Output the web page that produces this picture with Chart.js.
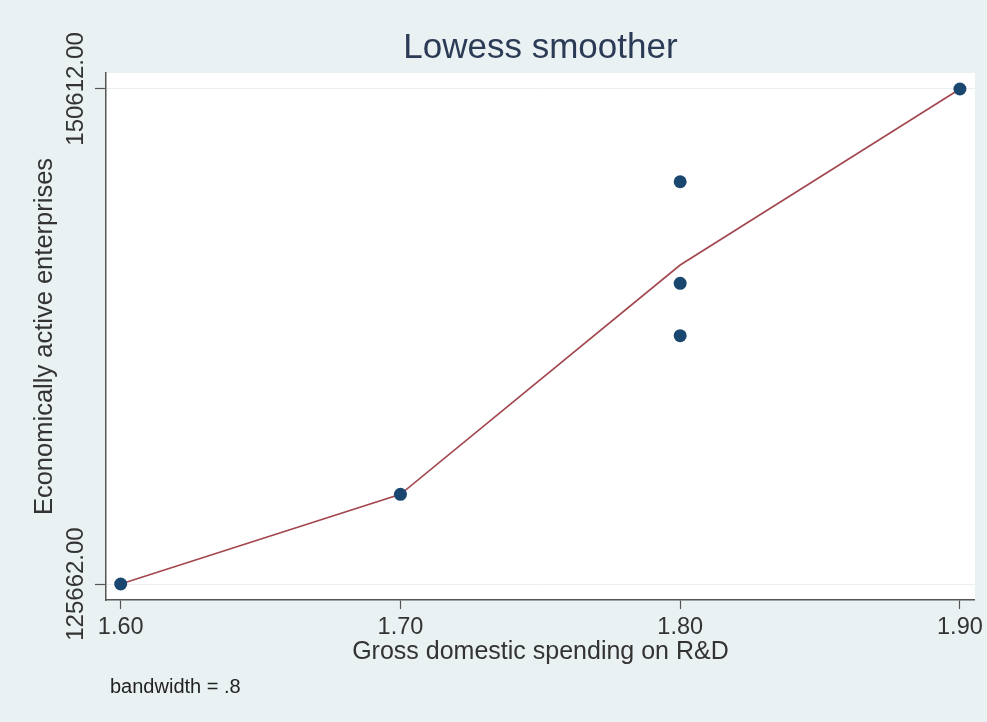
<!DOCTYPE html>
<html>
<head>
<meta charset="utf-8">
<script src="https://cdn.jsdelivr.net/npm/chart.js@4"></script>
<style>
html,body{margin:0;padding:0;background:#EAF1F3;}
#wrap{width:987px;height:722px;}
</style>
</head>
<body>
<div id="wrap"><canvas id="c" width="987" height="722"></canvas></div>
<script>
// ---- data ----
const spendingRD = [1.6, 1.7, 1.8, 1.8, 1.8, 1.9];
const enterprises = [125662, 130183, 145938, 140817, 138177, 150612];
const lowessX = [1.6, 1.7, 1.8, 1.9];
const lowessY = [125662, 130183, 141740, 150612];
const xTicks = [1.6, 1.7, 1.8, 1.9];
const yTicks = [125662, 150612];
const titleText = 'Lowess smoother';
const xTitle = 'Gross domestic spending on R&D';
const yTitle = 'Economically active enterprises';
const noteText = 'bandwidth = .8';

const FONT = '"Liberation Sans", Arial, Helvetica, sans-serif';
Chart.defaults.font.family = FONT;

const bgPlugin = {
  id: 'bg',
  beforeDraw(chart) {
    const {ctx, chartArea: a} = chart;
    ctx.save();
    ctx.fillStyle = '#EAF1F3';
    ctx.fillRect(0, 0, chart.width, chart.height);
    ctx.fillStyle = '#FFFFFF';
    ctx.fillRect(a.left, a.top, a.right - a.left, a.bottom - a.top);
    ctx.restore();
  },
  afterDraw(chart) {
    const {ctx} = chart;
    const ys = chart.scales.y;
    ctx.save();
    ctx.fillStyle = '#333333';
    ctx.font = '24px ' + FONT;
    ctx.textAlign = 'center';
    ctx.textBaseline = 'middle';
    yTicks.forEach(v => {
      const py = ys.getPixelForValue(v);
      ctx.save();
      ctx.translate(76, py);
      ctx.rotate(-Math.PI / 2);
      ctx.fillText(v.toFixed(2), 0, 0);
      ctx.restore();
    });
    ctx.textAlign = 'left';
    ctx.textBaseline = 'alphabetic';
    ctx.fillStyle = '#222222';
    ctx.font = '20px ' + FONT;
    ctx.fillText(noteText, 110, 693);
    ctx.restore();
  }
};

new Chart(document.getElementById('c'), {
  type: 'scatter',
  data: {
    datasets: [
      {
        type: 'line',
        label: 'lowess',
        data: lowessX.map((x, i) => ({x: x, y: lowessY[i]})),
        borderColor: '#A3474F',
        borderWidth: 1.6,
        pointRadius: 0,
        fill: false,
        tension: 0,
        order: 2
      },
      {
        label: 'enterprises',
        data: spendingRD.map((x, i) => ({x: x, y: enterprises[i]})),
        backgroundColor: '#1A476F',
        borderColor: '#1A476F',
        borderWidth: 0,
        pointRadius: 6.5,
        order: 1
      }
    ]
  },
  options: {
    responsive: false,
    animation: false,
    layout: {padding: {left: 0, right: 12, top: 0, bottom: 0}},
    plugins: {
      legend: {display: false},
      tooltip: {enabled: false},
      title: {
        display: true,
        text: titleText,
        fullSize: false,
        color: '#2B3A55',
        font: {size: 35, weight: 'normal', family: FONT},
        padding: {top: 27, bottom: 4}
      }
    },
    scales: {
      x: {
        type: 'linear',
        min: 1.59475,
        max: 1.90536,
        afterBuildTicks: s => { s.ticks = xTicks.map(v => ({value: v})); },
        afterFit: s => { s.height = 122; },
        ticks: {
          color: '#333333',
          font: {size: 23.5},
          padding: 4,
          callback: v => Number(v).toFixed(2),
          maxRotation: 0,
          minRotation: 0,
          autoSkip: false
        },
        grid: {display: true, drawOnChartArea: false, drawTicks: true, tickLength: 9, tickColor: '#555555', tickWidth: 1.2},
        border: {display: true, color: '#555555', width: 1.5},
        title: {display: true, text: xTitle, color: '#333333', font: {size: 25}, padding: {top: 0, bottom: 55}}
      },
      y: {
        type: 'linear',
        min: 124856,
        max: 151418,
        afterBuildTicks: s => { s.ticks = yTicks.map(v => ({value: v})); },
        afterFit: s => { s.width = 106; },
        ticks: {display: false},
        grid: {display: true, color: '#E9EFF2', lineWidth: 1, drawTicks: true, tickLength: 11, tickColor: '#555555', tickWidth: 1.2},
        border: {display: true, color: '#555555', width: 1.5},
        title: {display: true, text: yTitle, color: '#333333', font: {size: 25.5}, padding: {top: 30, bottom: 0}}
      }
    }
  },
  plugins: [bgPlugin]
});
</script>
</body>
</html>
